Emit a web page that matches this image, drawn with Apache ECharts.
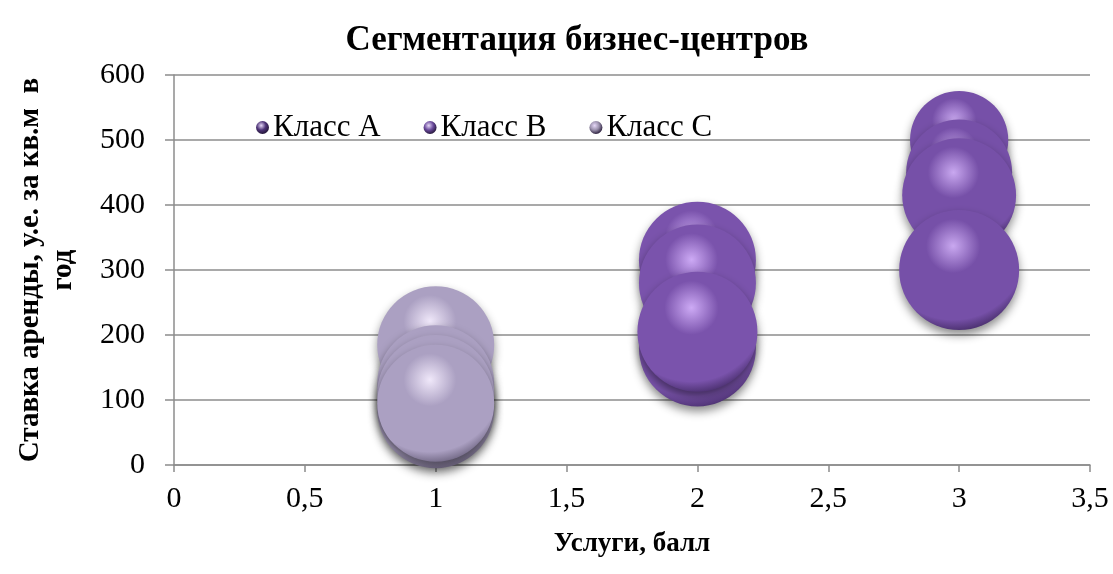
<!DOCTYPE html>
<html><head><meta charset="utf-8">
<script src="https://cdn.jsdelivr.net/npm/echarts@6/dist/echarts.min.js"></script>
<style>html,body{margin:0;padding:0;background:#fff}#c{width:1113px;height:574px}</style>
</head><body><div id="c"></div>
<script>
const seriesNames = ['Класс A', 'Класс B', 'Класс C'];
// [services score, rent rate, bubble size]
const classA_x = [3, 3, 3, 3];
const classA_y = [500, 450, 415, 300];
const classA_s = [67, 78, 90, 100];
const classB_x = [2, 2, 2, 2];
const classB_y = [315, 280, 180, 205];
const classB_s = [95, 95, 95, 100];
const classC_x = [1, 1, 1, 1, 1];
const classC_y = [185, 125, 85, 110, 95];
const classC_s = [95, 95, 95, 95, 95];
const xTicks = ['0','0,5','1','1,5','2','2,5','3','3,5'];

const baseColors = [
  {light:'#c9a8f0', base:'#7650a8', dark:'#3a2458', legend:'#4e3478'},
  {light:'#cdaaf5', base:'#7a53ac', dark:'#3c255c', legend:'#6a4a9c'},
  {light:'#f0e8fa', base:'#aba0c2', dark:'#5e5570', legend:'#9a90ac'}
];
function sphere(c){
  return {type:'radial', x:0.45, y:0.3, r:0.75, colorStops:[
    {offset:0, color:c.light},{offset:0.3, color:c.base},{offset:0.82, color:c.base},{offset:1, color:c.dark}]};
}
function mk(xs, ys, ss){ return xs.map((x,i)=>[x, ys[i], ss[i]]); }
const datasets = [mk(classA_x,classA_y,classA_s), mk(classB_x,classB_y,classB_s), mk(classC_x,classC_y,classC_s)];

const chart = echarts.init(document.getElementById('c'));
const font = '"Liberation Serif", "Times New Roman", serif';
chart.setOption({
  animation:false,
  title:{text:'Сегментация бизнес-центров', left:572, textAlign:'center', top:18,
    textStyle:{fontFamily:font, fontSize:35, fontWeight:'bold', color:'#000'}},
  legend:{left:251, top:107, itemWidth:13, itemHeight:13, itemGap:43, icon:'circle',
    textStyle:{fontFamily:font, fontSize:31, color:'#000', padding:[0,0,0,-1]},
    data:seriesNames.map((n,i)=>({name:n, itemStyle:{color:{type:'radial',x:0.4,y:0.35,r:0.7,colorStops:[{offset:0,color:'#e6d8f8'},{offset:0.5,color:baseColors[i].legend},{offset:1,color:'#1e1230'}]}}}))},
  grid:{left:174, right:23, top:75, bottom:109, outerBoundsMode:'none', containLabel:false},
  xAxis:{type:'value', min:0, max:3.5, interval:0.5,
    name:'Услуги, балл', nameLocation:'middle', nameGap:66,
    nameTextStyle:{fontFamily:font, fontSize:27, fontWeight:'bold', color:'#000'},
    axisLine:{show:true, onZero:false, lineStyle:{color:'#8c8c8c', width:1.5}},
    axisTick:{show:true, inside:false, length:7, lineStyle:{color:'#8c8c8c', width:1.5}},
    splitLine:{show:false},
    axisLabel:{fontFamily:font, fontSize:30, color:'#000', margin:19,
      formatter:(v)=>xTicks[Math.round(v*2)]}},
  yAxis:{type:'value', min:0, max:600, interval:100,
    name:'Ставка аренды, у.е. за кв.м  в\nгод', nameLocation:'middle', nameGap:94, nameRotate:90,
    nameTextStyle:{fontFamily:font, fontSize:29, fontWeight:'bold', color:'#000', lineHeight:33, align:'center'},
    axisLine:{show:true, lineStyle:{color:'#8c8c8c', width:1.5}},
    axisTick:{show:true, inside:false, length:9, lineStyle:{color:'#8c8c8c', width:1.5}},
    splitLine:{show:true, lineStyle:{color:'#8c8c8c', width:1.5}},
    axisLabel:{fontFamily:font, fontSize:30, color:'#000', margin:29}},
  series: datasets.map((d,i)=>({
    name:seriesNames[i], type:'scatter', data:d,
    symbolSize:(v)=>12*Math.sqrt(v[2]),
    itemStyle:{color:sphere(baseColors[i]), opacity:1,
      shadowBlur:10, shadowColor:'rgba(0,0,0,0.45)', shadowOffsetY:5},
    emphasis:{disabled:true}
  }))
});
</script></body></html>
